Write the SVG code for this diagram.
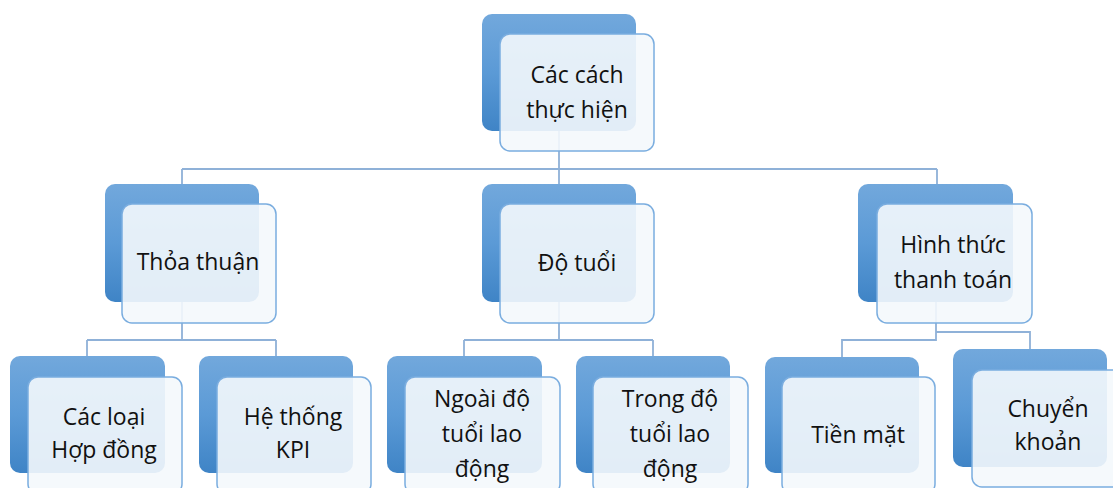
<svg xmlns="http://www.w3.org/2000/svg" width="1113" height="488" viewBox="0 0 1113 488">
<defs>
<linearGradient id="bg" x1="0" y1="0" x2="0" y2="1">
<stop offset="0" stop-color="#72a8dc"/>
<stop offset="0.5" stop-color="#5b9ad6"/>
<stop offset="1" stop-color="#3f84c6"/>
</linearGradient>
</defs>
<style>
.back{fill:url(#bg);}
.front{fill:#f4f8fc;fill-opacity:0.9;stroke:#7aaddf;stroke-width:1.5;}
.conn{fill:none;stroke:#8fb1d8;stroke-width:1.8;}
text{font-family:"Open Sans","Noto Sans","Liberation Sans",sans-serif;font-size:23px;fill:#111111;text-anchor:middle;}
</style>
<rect width="1113" height="488" fill="#ffffff"/>
<g id="connectors">
<path class="conn" d="M559,130 V169 M182,169 H937 M182,169 V184 M559,169 V184 M937,169 V184"/>
<path class="conn" d="M182,302 V340 M87,340 H276 M87,340 V356 M276,340 V356"/>
<path class="conn" d="M559,302 V340 M464,340 H653 M464,340 V356 M653,340 V356"/>
<path class="conn" d="M936,302 V340 H842 V357 M936,332 H1030 V349"/>
</g>
<g id="n-top">
<rect class="back" x="482" y="14" width="154" height="117" rx="10"/>
<rect class="front" x="500" y="34" width="154" height="117" rx="10"/>
<text x="577" y="83">Các cách</text>
<text x="577" y="118">thực hiện</text>
</g>
<g id="n-thoathuan">
<rect class="back" x="105" y="184" width="154" height="118" rx="10"/>
<rect class="front" x="122" y="204" width="154" height="119" rx="10"/>
<text x="198" y="270">Thỏa thuận</text>
</g>
<g id="n-dotuoi">
<rect class="back" x="482" y="184" width="154" height="118" rx="10"/>
<rect class="front" x="500" y="204" width="154" height="119" rx="10"/>
<text x="577" y="271">Độ tuổi</text>
</g>
<g id="n-hinhthuc">
<rect class="back" x="858" y="184" width="155" height="118" rx="10"/>
<rect class="front" x="877" y="204" width="155" height="119" rx="10"/>
<text x="953" y="253">Hình thức</text>
<text x="953" y="288">thanh toán</text>
</g>
<g id="n-cacloai">
<rect class="back" x="10" y="356" width="155" height="117" rx="10"/>
<rect class="front" x="28" y="377" width="154" height="117" rx="10"/>
<text x="104" y="425">Các loại</text>
<text x="104" y="458">Hợp đồng</text>
</g>
<g id="n-hethong">
<rect class="back" x="199" y="356" width="154" height="117" rx="10"/>
<rect class="front" x="217" y="377" width="154" height="117" rx="10"/>
<text x="293" y="425">Hệ thống</text>
<text x="293" y="458">KPI</text>
</g>
<g id="n-ngoai">
<rect class="back" x="387" y="356" width="155" height="117" rx="10"/>
<rect class="front" x="405" y="377" width="155" height="117" rx="10"/>
<text x="482" y="407">Ngoài độ</text>
<text x="482" y="442">tuổi lao</text>
<text x="482" y="477">động</text>
</g>
<g id="n-trong">
<rect class="back" x="576" y="356" width="154" height="117" rx="10"/>
<rect class="front" x="593" y="377" width="155" height="117" rx="10"/>
<text x="670" y="407">Trong độ</text>
<text x="670" y="442">tuổi lao</text>
<text x="670" y="477">động</text>
</g>
<g id="n-tienmat">
<rect class="back" x="765" y="357" width="154" height="116" rx="10"/>
<rect class="front" x="782" y="377" width="153" height="117" rx="10"/>
<text x="858" y="443">Tiền mặt</text>
</g>
<g id="n-chuyenkhoan">
<rect class="back" x="953" y="349" width="154" height="118" rx="10"/>
<rect class="front" x="972" y="370" width="155" height="117" rx="10"/>
<text x="1048" y="417">Chuyển</text>
<text x="1048" y="450">khoản</text>
</g>
</svg>
